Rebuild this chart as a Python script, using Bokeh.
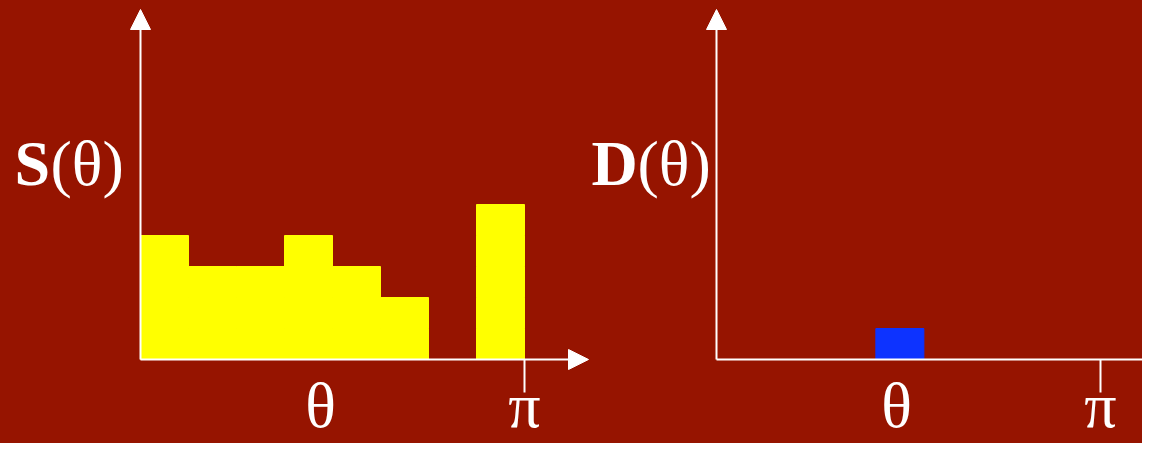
import math
from bokeh.plotting import figure
from bokeh.layouts import row
from bokeh.models import Arrow, NormalHead, Label
from bokeh.embed import file_html
from bokeh.resources import INLINE

# ---- data ----
PI = math.pi
n_bins = 8
S_counts = [4, 3, 3, 4, 3, 2, 0, 5]      # stacked blocks per θ bin (0..π)
D_theta = [1.50]                          # position of the single D(θ) block
D_counts = [1]
x_tick_labels = ["θ", "π"]

BG = "#961400"
YELLOW = "#ffff00"
BLUE = "#0d33ff"
FONT = "Liberation Serif"

# ---- layout helpers (picture pixels -> data units) ----
PX_PER_PI = 384.0
PX_PER_COUNT = 31.0
AXIS_Y = 359.0
W_TOTAL = 1142
H = 443
SPLIT = 590
TXT_SHIFT = 22  # correction for rendered text baseline


def make_conv(origin_x):
    fx = lambda X: (X - origin_x) * PI / PX_PER_PI
    fy = lambda Y: (AXIS_Y - Y) / PX_PER_COUNT
    return fx, fy


def panel(left_px, right_px, origin_x):
    fx, fy = make_conv(origin_x)
    p = figure(width=int(right_px - left_px), height=H,
               x_range=(fx(left_px), fx(right_px)),
               y_range=(fy(H), fy(0)),
               x_axis_location=None, y_axis_location=None,
               toolbar_location=None, output_backend="svg", min_border=0)
    p.background_fill_color = BG
    p.border_fill_color = BG
    p.outline_line_color = None
    p.grid.visible = False
    head = lambda: NormalHead(size=20, fill_color="white", line_color="white")
    # y axis arrow
    p.add_layout(Arrow(end=head(), x_start=0, y_start=0, x_end=0, y_end=fy(9),
                       line_color="white", line_width=2))
    # x axis arrow
    p.add_layout(Arrow(end=head(), x_start=0, y_start=0, x_end=fx(origin_x + 448),
                       y_end=0, line_color="white", line_width=2))
    # tick at π
    p.segment(x0=[PI], y0=[0], x1=[PI], y1=[fy(AXIS_Y + 33)],
              line_color="white", line_width=2)
    # tick labels
    p.add_layout(Label(x=fx(origin_x + 180), y=fy(427 - TXT_SHIFT), text=x_tick_labels[0],
                       text_font=FONT, text_font_size="64px", text_color="white",
                       text_align="center", text_baseline="alphabetic"))
    p.add_layout(Label(x=PI, y=fy(427 - TXT_SHIFT), text=x_tick_labels[1],
                       text_font=FONT, text_font_size="64px", text_color="white",
                       text_align="center", text_baseline="alphabetic"))
    return p, fx, fy


# ---- left panel S(θ) ----
pL, fxL, fyL = panel(0, SPLIT, 140)
bw = PI / n_bins
xs, ys = [], []
for i, c in enumerate(S_counts):
    for k in range(c):
        xs.append((i + 0.5) * bw)
        ys.append(k + 0.5)
pL.rect(x=xs, y=ys, width=bw, height=1, fill_color=YELLOW,
        line_color=YELLOW, line_width=1)
pL.add_layout(Label(x=fxL(14), y=fyL(185 - TXT_SHIFT), text="S", text_font=FONT,
                    text_font_size="64px", text_font_style="bold", text_color="white",
                    text_baseline="alphabetic"))
pL.add_layout(Label(x=fxL(50), y=fyL(185 - TXT_SHIFT), text="(θ)", text_font=FONT,
                    text_font_size="64px", text_color="white",
                    text_baseline="alphabetic"))

# ---- right panel D(θ) ----
pR, fxR, fyR = panel(SPLIT, W_TOTAL, 716)
dx, dy = [], []
for t, c in zip(D_theta, D_counts):
    for k in range(c):
        dx.append(t)
        dy.append(k + 0.5)
pR.rect(x=dx, y=dy, width=bw, height=1, fill_color=BLUE, line_color=BLUE,
        line_width=1)
pR.add_layout(Label(x=fxR(591), y=fyR(185 - TXT_SHIFT), text="D", text_font=FONT,
                    text_font_size="64px", text_font_style="bold", text_color="white",
                    text_baseline="alphabetic"))
pR.add_layout(Label(x=fxR(637), y=fyR(185 - TXT_SHIFT), text="(θ)", text_font=FONT,
                    text_font_size="64px", text_color="white",
                    text_baseline="alphabetic"))

layout = row(pL, pR)
layout.styles = {"background-color": BG}
open("out.html", "w").write(file_html(layout, INLINE))
